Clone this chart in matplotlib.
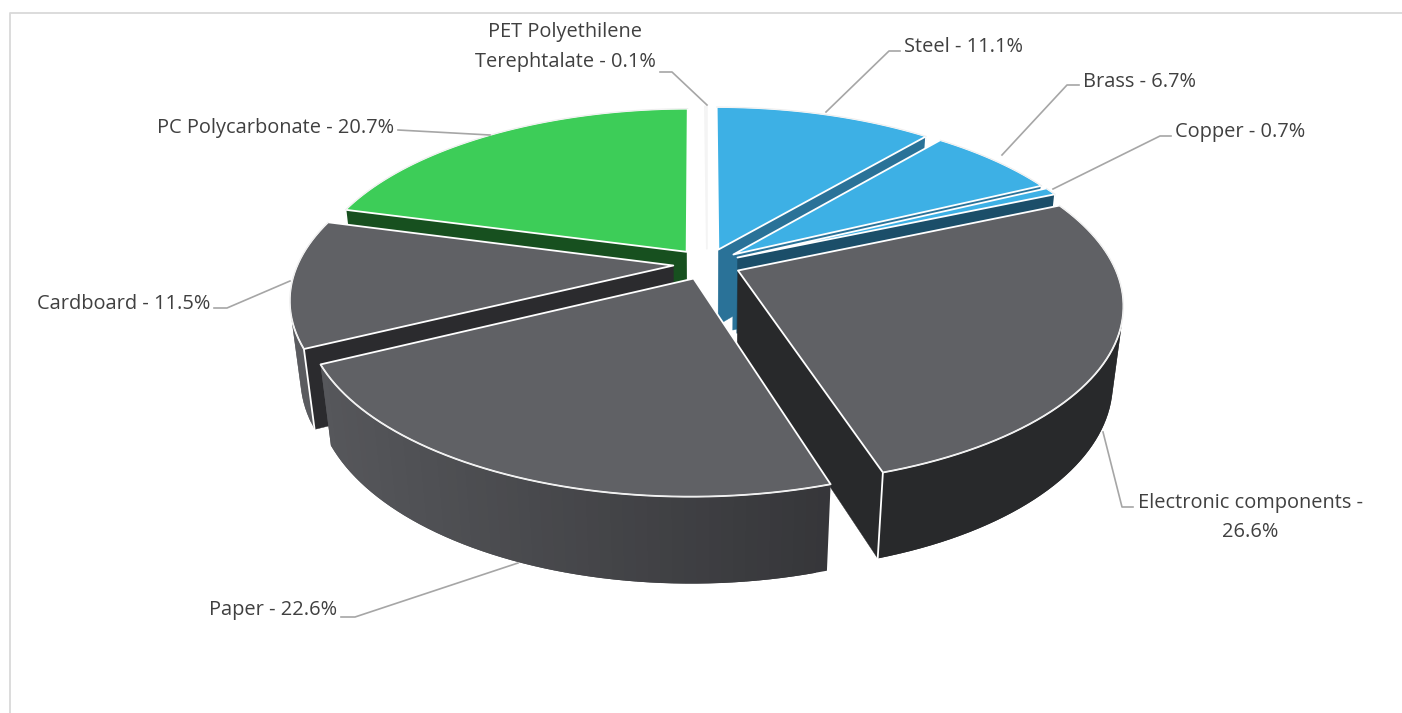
"""
Pie 3D con sectores separados: composicion de materiales
"""
import numpy as np
import matplotlib
matplotlib.use('Agg')
import matplotlib.pyplot as plt
from matplotlib.colors import to_rgb

# Datos
materiales = ['Steel', 'Brass', 'Copper', 'Electronic components', 'Paper',
              'Cardboard', 'PC Polycarbonate', 'PET Polyethilene Terephtalate']
valores = [11.1, 6.7, 0.7, 26.6, 22.6, 11.5, 20.7, 0.1]
etiquetas = ['Steel - 11.1%', 'Brass - 6.7%', 'Copper - 0.7%',
             'Electronic components -\n26.6%', 'Paper - 22.6%',
             'Cardboard - 11.5%', 'PC Polycarbonate - 20.7%',
             'PET Polyethilene\nTerephtalate - 0.1%']
color_tapa = ['#3DB0E5', '#3DB0E5', '#3DB0E5', '#606165', '#606165', '#606165', '#3DCD58', '#FFFFFF']
color_pared = ['#2A7298', '#2A7298', '#1B4E69', '#28292B', '#2B2B2E', '#2B2B2E', '#17501F', '#FFFFFF']
borde_ini = ['#2A7298', '#2A7298', '#1B4E69', '#28292B', '#57585C', '#5A5B5F', '#17501F', '#FFFFFF']
borde_fin = ['#2A7298', '#2A7298', '#1B4E69', '#28292B', '#232326', '#47484B', '#17501F', '#FFFFFF']

# Camara
CX, CY = 707, 264
A, B, K = 375.5, 173, 0.18
PROF, KZ = 78, 0.025
EXPLOSION = 0.09
BLANCO = '#FFFFFF'
AREA_MIN = 800  # paredes casi de canto no se dibujan


def proyectar(u, v, z=0.0):
    w = 1 + K * np.asarray(v) + KZ * z
    return CX + A * np.asarray(u) / w, CY - B * np.asarray(v) / w + PROF * z / w


def area(xs, ys):
    return 0.5 * np.sum(xs * np.roll(ys, -1) - np.roll(xs, -1) * ys)


def mezcla(c1, c2, f):
    a, b = np.array(to_rgb(c1)), np.array(to_rgb(c2))
    return tuple(a + (b - a) * f)


def dibujar_sector(ax, t0, t1, i):
    mid = (t0 + t1) / 2
    ou, ov = EXPLOSION * np.sin(mid), EXPLOSION * np.cos(mid)
    n = max(3, int((t1 - t0) / np.radians(1.5)))
    ts = np.linspace(t0, t1, n)
    us, vs = ou + np.sin(ts), ov + np.cos(ts)
    es_blanco = color_tapa[i] == BLANCO

    # paredes radiales
    for t, signo in ((t0, -1), (t1, 1)):
        u1, v1 = ou + np.sin(t), ov + np.cos(t)
        x0, y0 = proyectar(ou, ov)
        x1, y1 = proyectar(u1, v1)
        x2, y2 = proyectar(u1, v1, 1)
        x3, y3 = proyectar(ou, ov, 1)
        xs, ys = np.array([x0, x1, x2, x3]), np.array([y0, y1, y2, y3])
        if signo * area(xs, ys) > AREA_MIN:
            ax.fill(xs, ys, fc=color_pared[i], ec=color_pared[i], lw=0.3, zorder=i_z[i])
            if not es_blanco:
                ax.plot([x1, x2], [y1, y2], color=BLANCO, lw=1.3, zorder=i_z[i] + 0.2)

    # borde exterior, cada tramo pisa al siguiente para que no queden costuras
    xt, yt = proyectar(us, vs)
    xb, yb = proyectar(us, vs, 1)
    for k in range(n - 1):
        fin = min(k + 2, n - 1)
        xs = np.array([xt[k], xt[fin], xb[fin], xb[k]])
        ys = np.array([yt[k], yt[fin], yb[fin], yb[k]])
        if area(xs, ys) < 0:
            # sombreado de izquierda a derecha
            f = np.clip((CX + 400 - xs.mean()) / 800, 0, 1)
            c = mezcla(borde_fin[i], borde_ini[i], f)
            ax.fill(xs, ys, fc=c, ec='none', lw=0, zorder=i_z[i] + 0.1)

    # tapa
    x0, y0 = proyectar(ou, ov)
    xs = np.concatenate([[x0], xt])
    ys = np.concatenate([[y0], yt])
    ec = BLANCO if not es_blanco else '#F4F4F4'
    ax.fill(xs, ys, fc=color_tapa[i], ec=ec, lw=1.3, joinstyle='round', zorder=i_z[i] + 0.3)
    if not es_blanco:
        ax.plot(xt, yt, color='#EDEDED', lw=0.7, zorder=i_z[i] + 0.35)


# Orden de pintado: de atras hacia adelante
cum = np.cumsum([0] + valores) / sum(valores) * 2 * np.pi
medios = (cum[:-1] + cum[1:]) / 2
orden = np.argsort(-np.cos(medios))
i_z = {int(i): 2 + pos for pos, i in enumerate(orden)}

fig = plt.figure(figsize=(14.02, 7.13), dpi=100, facecolor='white')
ax = fig.add_axes([0, 0, 1, 1])
ax.set_xlim(0, 1402)
ax.set_ylim(713, 0)
ax.axis('off')

# marco del grafico
ax.plot([9.5, 9.5, 1402], [713, 13, 13], color='#D9D9D9', lw=1.3, zorder=1)

for i in range(len(valores)):
    dibujar_sector(ax, cum[i], cum[i + 1], i)

# Lineas guia y etiquetas
guias = [
    ([826, 889, 900], [112, 51, 51]),
    ([1002, 1067, 1079], [155, 85, 85]),
    ([1053, 1160, 1171], [189, 136, 136]),
    ([1103, 1122, 1133], [432, 507, 507]),
    ([518, 355, 341], [563, 617, 617]),
    ([290, 227, 214], [281, 308, 308]),
    ([490, 398], [135, 130]),
    ([707, 672, 660], [105, 72, 72]),
]
pos_texto = [(904, 47, 'left'), (1083, 82, 'left'), (1175, 132, 'left'),
             (1250, 517.5, 'center'), (209, 610, 'left'), (37, 304, 'left'),
             (157, 128, 'left'), (565, 47, 'center')]
for (gx, gy), (tx, ty, ha), txt in zip(guias, pos_texto, etiquetas):
    ax.plot(gx, gy, color='#A6A6A6', lw=1.2, zorder=30)
    ax.text(tx, ty, txt, ha=ha, va='center', fontsize=14.4, family='Open Sans',
            color='#404040', linespacing=1.6, zorder=31)

fig.savefig('out.png', dpi=100, facecolor='white')
